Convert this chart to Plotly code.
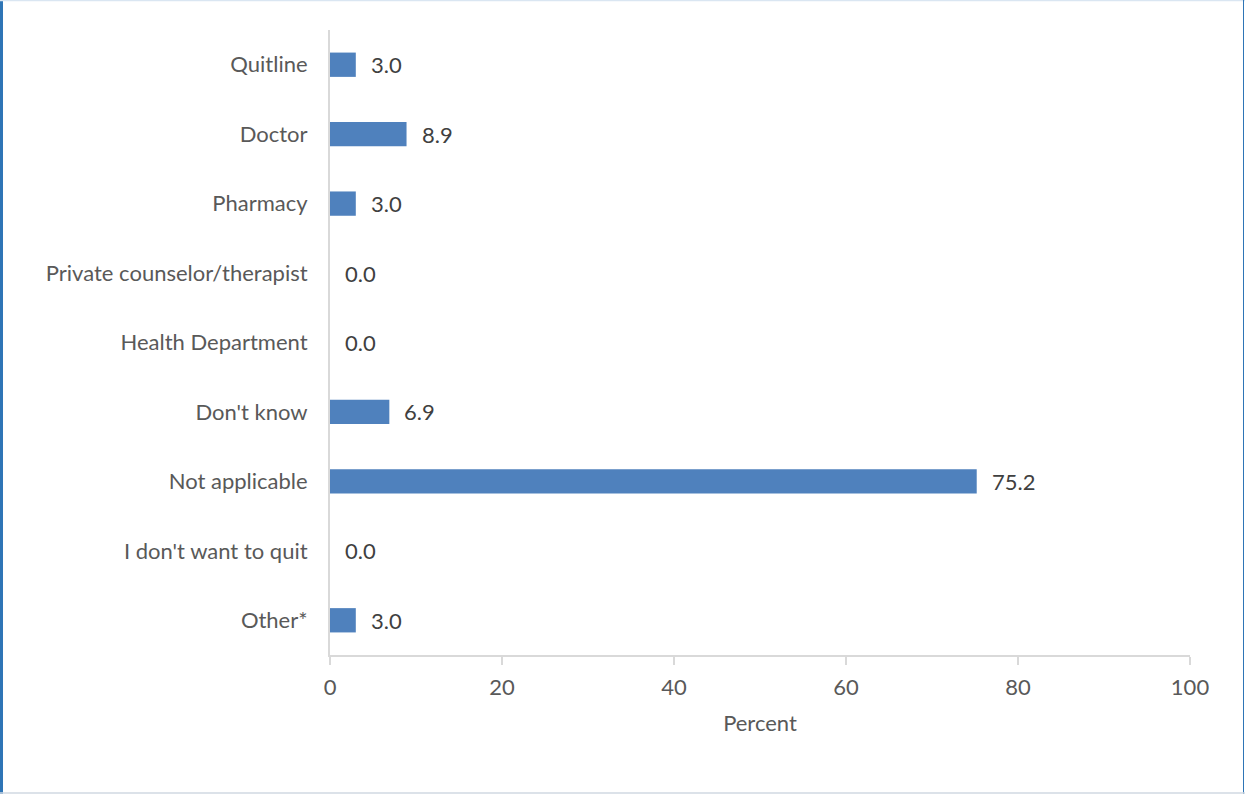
import plotly.graph_objects as go

categories = ["Quitline", "Doctor", "Pharmacy", "Private counselor/therapist",
              "Health Department", "Don't know", "Not applicable",
              "I don't want to quit", "Other*"]
values = [3.0, 8.9, 3.0, 0.0, 0.0, 6.9, 75.2, 0.0, 3.0]
x_ticks = [0, 20, 40, 60, 80, 100]

W, H = 1245, 794
L, R, T, B = 330, 55, 30, 139
pw, ph = W - L - R, H - T - B

font_fam = "Lato, Open Sans, sans-serif"
FS = 22
txt_col = "#595959"

fig = go.Figure(go.Bar(
    x=values, y=categories, orientation="h",
    marker=dict(color="#4f81bd", line=dict(width=0)),
    width=0.35,
))

for c, v in zip(categories, values):
    fig.add_annotation(x=v, y=c, text=f"{v:.1f}", showarrow=False,
                       xanchor="left", xshift=13,
                       font=dict(size=FS, color="#404040", family=font_fam))

def px(x):
    return (x - L) / pw

def py(y):
    return 1 - (y - T) / ph

shapes = [
    dict(type="line", xref="paper", yref="paper", x0=px(1.5), x1=px(1.5), y0=py(0), y1=py(794),
         line=dict(color="#2e75b6", width=3)),
    dict(type="line", xref="paper", yref="paper", x0=px(0), x1=px(1245), y0=py(0.5), y1=py(0.5),
         line=dict(color="#dae6f2", width=1.5)),
    dict(type="line", xref="paper", yref="paper", x0=px(1243.5), x1=px(1243.5), y0=py(0), y1=py(794),
         line=dict(color="#2e75b6", width=1)),
    dict(type="line", xref="paper", yref="paper", x0=px(0), x1=px(1245), y0=py(793), y1=py(793),
         line=dict(color="#d0d8e2", width=1.5)),
]

fig.update_layout(
    width=W, height=H,
    margin=dict(l=L, r=R, t=T, b=B, pad=0),
    paper_bgcolor="white", plot_bgcolor="white",
    showlegend=False,
    shapes=shapes,
    font=dict(family=font_fam, size=FS, color=txt_col),
    xaxis=dict(range=[0, 100], tickvals=x_ticks, ticks="outside", ticklen=8,
               tickcolor="#d9d9d9", tickwidth=1.5, showline=True, linecolor="#d9d9d9",
               linewidth=2, showgrid=False, zeroline=False, ticklabelstandoff=4,
               tickfont=dict(size=FS, color=txt_col),
               title=dict(text="Percent", font=dict(size=FS, color=txt_col), standoff=16)),
    xaxis2=dict(range=[0, 100], tickvals=x_ticks, ticks="inside", ticklen=6,
                tickcolor="#d9d9d9", tickwidth=1.5, showticklabels=False, showline=False,
                showgrid=False, zeroline=False, overlaying="x", anchor="y", side="bottom"),
    yaxis=dict(autorange="reversed", showline=True, linecolor="#d9d9d9", linewidth=2,
               showgrid=False, ticks="", ticklabelstandoff=16,
               tickfont=dict(size=FS, color=txt_col)),
)

fig.write_html("out.html", config={"displayModeBar": False},
               post_script="document.body.style.margin='0';document.body.style.padding='0';")
